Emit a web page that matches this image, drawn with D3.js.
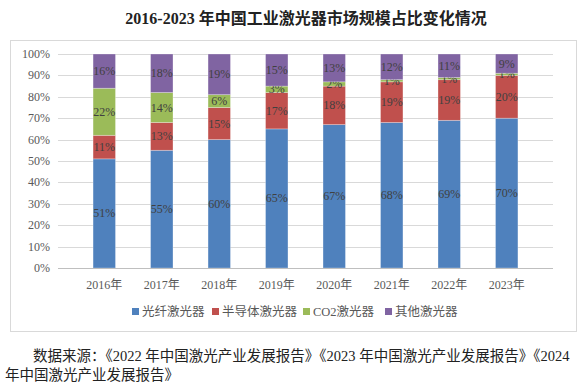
<!DOCTYPE html>
<html>
<head>
<meta charset="utf-8">
<script src="https://cdn.jsdelivr.net/npm/d3@7"></script>
<style>
  body { margin: 0; background: #fff; }
  svg { display: block; font-family: "Liberation Serif", "Noto Sans CJK SC", serif; }
</style>
</head>
<body>
<svg id="chart" width="582" height="386"></svg>
<script>
// data
var years = ["2016年", "2017年", "2018年", "2019年", "2020年", "2021年", "2022年", "2023年"];
var fiber = [51, 55, 60, 65, 67, 68, 69, 70];
var semi  = [11, 13, 15, 17, 18, 19, 19, 20];
var co2   = [22, 14, 6, 3, 2, 1, 1, 1];
var other = [16, 18, 19, 15, 13, 12, 11, 9];
var seriesNames = ["光纤激光器", "半导体激光器", "CO2激光器", "其他激光器"];
var colors = ["#4f81bd", "#c0504d", "#9bbb59", "#8064a2"];
var yTicks = [0, 10, 20, 30, 40, 50, 60, 70, 80, 90, 100];

var svg = d3.select("#chart");

// title
svg.append("text")
  .attr("x", 306).attr("y", 24)
  .attr("text-anchor", "middle")
  .attr("font-size", 16)
  .attr("font-weight", "bold")
  .attr("fill", "#222")
  .text("2016-2023 年中国工业激光器市场规模占比变化情况");

// chart frame
svg.append("rect")
  .attr("x", 10.5).attr("y", 40.5)
  .attr("width", 566).attr("height", 291)
  .attr("fill", "#fff")
  .attr("stroke", "#d9d9d9");

var x = d3.scaleBand().domain(years).range([58, 553]).padding(0.61);
var y = d3.scaleLinear().domain([0, 100]).range([268, 54]);

// gridlines
svg.append("g").selectAll("line")
  .data(yTicks.slice(1))
  .join("line")
  .attr("x1", 58).attr("x2", 553)
  .attr("y1", d => Math.round(y(d)) + 0.5)
  .attr("y2", d => Math.round(y(d)) + 0.5)
  .attr("stroke", "#d9d9d9");

// y axis labels
svg.append("g").selectAll("text")
  .data(yTicks)
  .join("text")
  .attr("x", 50).attr("y", d => y(d) + 4)
  .attr("text-anchor", "end")
  .attr("font-size", 12)
  .attr("fill", "#595959")
  .text(d => d + "%");

// stack
var table = years.map((yr, i) => ({ year: yr, s0: fiber[i], s1: semi[i], s2: co2[i], s3: other[i] }));
var stacked = d3.stack().keys(["s0", "s1", "s2", "s3"])(table);

var groups = svg.append("g").selectAll("g")
  .data(stacked)
  .join("g")
  .attr("fill", (d, i) => colors[i]);

groups.selectAll("rect")
  .data(d => d)
  .join("rect")
  .attr("x", d => x(d.data.year))
  .attr("y", d => y(d[1]))
  .attr("width", x.bandwidth())
  .attr("height", d => y(d[0]) - y(d[1]))
  .attr("stroke", "#fff")
  .attr("stroke-opacity", 0.35)
  .attr("stroke-width", 0.8);

// value labels
groups.selectAll("text")
  .data(d => d.map(v => ({ v: v, val: v[1] - v[0] })))
  .join("text")
  .attr("x", d => x(d.v.data.year) + x.bandwidth() / 2)
  .attr("y", d => y((d.v[0] + d.v[1]) / 2) + 4)
  .attr("text-anchor", "middle")
  .attr("font-size", 12)
  .attr("fill", "#404040")
  .text(d => d.val + "%");

// x axis line
svg.append("line")
  .attr("x1", 58).attr("x2", 553)
  .attr("y1", 268.5).attr("y2", 268.5)
  .attr("stroke", "#bfbfbf");

// x labels
svg.append("g").selectAll("text")
  .data(years)
  .join("text")
  .attr("x", d => x(d) + x.bandwidth() / 2)
  .attr("y", 289)
  .attr("text-anchor", "middle")
  .attr("font-size", 12)
  .attr("fill", "#595959")
  .text(d => d);

// legend
var legendX = [132, 212, 303, 385];
var legend = svg.append("g").selectAll("g")
  .data(seriesNames)
  .join("g")
  .attr("transform", (d, i) => "translate(" + legendX[i] + ",312)");
legend.append("rect")
  .attr("x", 0).attr("y", -4)
  .attr("width", 7).attr("height", 7)
  .attr("fill", (d, i) => colors[i]);
legend.append("text")
  .attr("x", 10).attr("y", 4)
  .attr("font-size", 12.5)
  .attr("fill", "#595959")
  .text(d => d);

// source note
svg.append("text")
  .attr("x", 33).attr("y", 361)
  .attr("font-size", 14.5)
  .attr("fill", "#222")
  .text("数据来源：《2022 年中国激光产业发展报告》《2023 年中国激光产业发展报告》《2024");
svg.append("text")
  .attr("x", 5).attr("y", 380)
  .attr("font-size", 14.5)
  .attr("fill", "#222")
  .text("年中国激光产业发展报告》");
</script>
</body>
</html>
